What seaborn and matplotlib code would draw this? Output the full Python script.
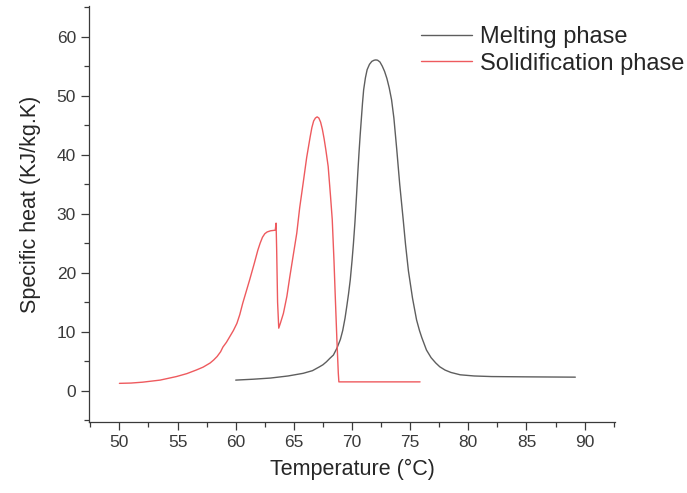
import matplotlib
matplotlib.use("Agg")
import matplotlib.pyplot as plt
from matplotlib.ticker import MultipleLocator
import numpy as np
import pandas as pd
import seaborn as sns

# Specific heat curves (temperature in °C, specific heat in KJ/kg.K)
melt_temp = [60.0, 61.5, 63.0, 64.5, 65.8, 66.6, 67.2, 67.5, 67.8, 68.1,
             68.4, 68.7, 69.0, 69.2, 69.4, 69.55, 69.7, 69.85, 70.0, 70.12,
             70.25, 70.38, 70.5, 70.6, 70.7, 70.8, 70.9, 71.0, 71.15, 71.3,
             71.5, 71.7, 71.9, 72.05, 72.2, 72.4, 72.6, 72.8, 73.0, 73.2,
             73.4, 73.6, 73.85, 74.1, 74.4, 74.6, 74.85, 75.2, 75.55, 75.8,
             76.0, 76.4, 76.8, 77.2, 77.55, 78.0, 78.5, 79.3, 80.5, 82.0,
             85.0, 89.2]
melt_cp = [1.8, 1.95, 2.15, 2.5, 2.95, 3.4, 4.05, 4.4, 4.9, 5.5,
           6.05, 7.2, 8.7, 10.2, 12.3, 14.3, 16.4, 18.8, 22.0, 24.9,
           28.5, 32.8, 37.0, 40.3, 43.3, 46.0, 48.7, 51.0, 53.0, 54.4,
           55.3, 55.8, 56.0, 56.05, 56.0, 55.7, 55.0, 54.1, 52.9, 51.3,
           49.3, 46.2, 40.8, 35.0, 29.0, 24.8, 20.3, 15.7, 12.0, 10.2,
           9.0, 6.9, 5.6, 4.7, 4.05, 3.5, 3.1, 2.7, 2.5, 2.4,
           2.35, 2.3]

solid_temp = [50.0, 51.0, 52.0, 53.5, 54.9, 55.8, 56.6, 57.2, 57.8, 58.1,
              58.4, 58.7, 58.9, 59.2, 59.5, 59.8, 60.1, 60.35, 60.6, 60.9,
              61.2, 61.6, 61.9, 62.1, 62.3, 62.5, 62.7, 63.0, 63.4, 63.47,
              63.52, 63.6, 63.7, 63.85, 64.1, 64.4, 64.65, 64.95, 65.25, 65.5,
              65.8, 66.1, 66.4, 66.55, 66.7, 66.85, 67.0, 67.15, 67.3, 67.45,
              67.6, 67.75, 67.95, 68.15, 68.3, 68.45, 68.55, 68.7, 68.82, 68.87,
              75.85]
solid_cp = [1.25, 1.3, 1.45, 1.8, 2.4, 2.9, 3.5, 4.0, 4.7, 5.2,
            5.8, 6.6, 7.4, 8.2, 9.2, 10.2, 11.4, 12.9, 14.8, 16.8,
            18.8, 21.6, 23.8, 25.0, 26.0, 26.6, 26.9, 27.1, 27.2, 28.4,
            24.0, 15.0, 10.6, 11.5, 13.1, 16.0, 19.3, 23.0, 26.7, 31.0,
            35.2, 39.5, 43.0, 44.6, 45.7, 46.2, 46.4, 46.2, 45.5, 44.3,
            42.7, 40.8, 38.0, 33.0, 29.0, 22.0, 16.5, 8.6, 3.0, 1.5,
            1.5]

phase_names = ["Melting phase", "Solidification phase"]
phase_colors = {"Melting phase": "#5e5e5e", "Solidification phase": "#ee5a5e"}

df = pd.concat([
    pd.DataFrame({"Temperature": melt_temp, "Cp": melt_cp, "Phase": phase_names[0]}),
    pd.DataFrame({"Temperature": solid_temp, "Cp": solid_cp, "Phase": phase_names[1]}),
], ignore_index=True)

sns.set_theme(style="ticks")
plt.rcParams["font.family"] = ["Liberation Sans", "DejaVu Sans"]

fig = plt.figure(figsize=(6.87, 4.93), dpi=100)
ax = fig.add_axes([0.1298, 0.144, 0.895 - 0.1298, 0.988 - 0.144])

sns.lineplot(data=df, x="Temperature", y="Cp", hue="Phase", hue_order=phase_names,
             palette=phase_colors, sort=False, estimator=None, linewidth=1.0, ax=ax)

ax.set_xlim(47.4, 92.6)
ax.set_ylim(-5.3, 65.2)
ax.set_xticks(np.arange(50, 91, 5))
ax.set_yticks(np.arange(0, 61, 10))
ax.xaxis.set_minor_locator(MultipleLocator(2.5))
ax.yaxis.set_minor_locator(MultipleLocator(5))

for side in ("top", "right"):
    ax.spines[side].set_visible(False)
for side in ("left", "bottom"):
    ax.spines[side].set_color("#3a3a3a")
    ax.spines[side].set_linewidth(0.9)

ax.tick_params(which="major", direction="out", length=6, width=0.9,
               color="#3a3a3a", labelsize=12.5, labelcolor="#3a3a3a", pad=3.5)
ax.tick_params(which="minor", direction="out", length=3.5, width=0.9, color="#3a3a3a")

ax.set_xlabel("Temperature (°C)", fontsize=15.5, color="#262626", labelpad=6)
ax.set_ylabel("Specific heat (KJ/kg.K)", fontsize=15.5, color="#262626", labelpad=10)
ax.yaxis.set_label_coords(-0.092, 0.523)

handles, labels = ax.get_legend_handles_labels()
ax.legend(handles, labels, loc="upper left", bbox_to_anchor=(421 / 687, 1 - 26 / 493),
          bbox_transform=fig.transFigure, frameon=False, fontsize=17,
          handlelength=2.15, handletextpad=0.33, labelspacing=0.2,
          borderpad=0, borderaxespad=0, labelcolor="#262626")

fig.savefig("out.png", dpi=100)
